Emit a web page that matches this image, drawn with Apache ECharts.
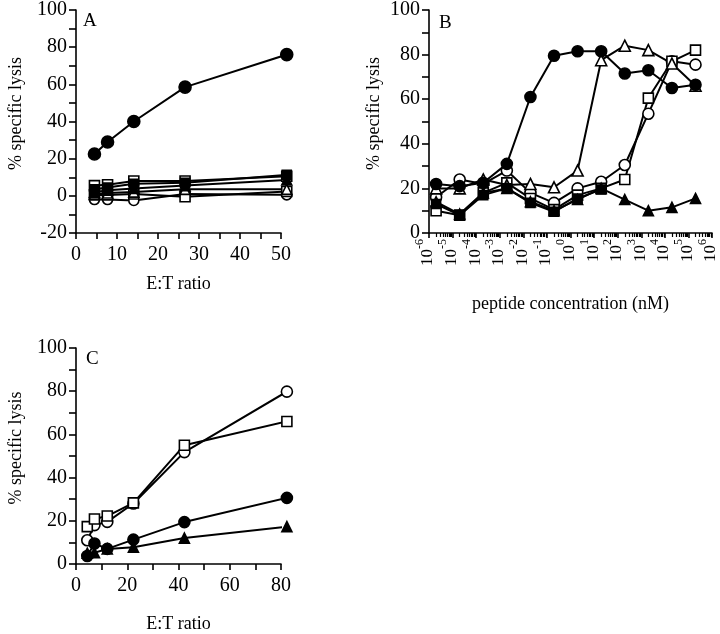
<!DOCTYPE html>
<html><head><meta charset="utf-8">
<script src="https://cdn.jsdelivr.net/npm/echarts@6/dist/echarts.min.js"></script>
<style>html,body{margin:0;padding:0;background:#fff}#c{width:720px;height:634px}</style>
</head><body><div id="c"></div>
<script>
// ---------- Panel A (E:T ratio) ----------
const etA = [4.5, 7.7, 14.1, 26.6, 51.4];
const aFilledCircle = [22.5, 29, 40, 58.5, 76];
const aOpenSquare = [5.5, 6, 8, 8, 10.5];
const aFilledSquare = [3.5, 4.5, 6.5, 7, 11.3];
const aFilledTriangle = [2, 3, 4, 5.5, 8.5];
const aOpenTriangle = [1, 1.5, 2, 3.5, 3.5];
const aOpenSquare2 = [0.5, 0.5, 1, -0.5, 2.3];
const aOpenCircle = [-2, -2, -2.5, 1, 0.5];

// ---------- Panel B (peptide concentration, nM) ----------
const concB = [2e-6, 2e-5, 2e-4, 2e-3, 2e-2, 0.2, 2, 20, 200, 2000, 2e4, 2e5];
const bFilledCircle = [22, 21, 22.5, 31, 61, 79.5, 81.5, 81.5, 71.5, 73, 65, 66.5];
const bOpenTriangle = [20, 20, 24, 21.5, 22, 20.5, 28, 77.5, 84, 82, 76, 66];
const bOpenCircle = [16, 24, 22, 28, 18, 13.5, 20, 23, 30.5, 53.5, 77, 75.5];
const bOpenSquare = [10, 8, 18, 22.5, 15.5, 10.5, 17, 20, 24, 60.5, 77, 82];
const bFilledSquare = [13, 8, 17, 20, 13.5, 9.5, 15.5, 19.5];
const bFilledTriangle = [14, 8.5, 18, 20, 14, 10, 15, 20, 15, 10, 11.5, 15.5];
const bExponents = [-6, -5, -4, -3, -2, -1, 0, 1, 2, 3, 4, 5, 6];

// ---------- Panel C (E:T ratio) ----------
const etC = [4.4, 7.2, 12.2, 22.4, 42.3, 82.3];
const cOpenCircle = [11, 18, 19.5, 28, 51.8, 79.8];
const cOpenSquare = [17.3, 20.8, 22.2, 28.3, 55, 66];
const cFilledCircle = [3.7, 9.5, 7, 11.3, 19.4, 30.6];
const cFilledTriangle = [5, 5.2, 7, 7.8, 12, 17.3];

const FONT = "'Liberation Serif', 'Times New Roman', serif";
const BLACK = '#000';

function pairs(xs, ys) { return ys.map((y, i) => [xs[i], y]); }

function ser(grid, xs, ys, shape, filled, size) {
  return {
    type: 'line', xAxisIndex: grid, yAxisIndex: grid,
    data: pairs(xs, ys), clip: false,
    symbol: shape, symbolSize: size || 10,
    lineStyle: { color: BLACK, width: 2 },
    itemStyle: { color: filled ? BLACK : '#fff', borderColor: BLACK, borderWidth: 1.6 },
    z: filled ? 3 : 2, animation: false
  };
}

function valueX(grid, min, max, interval, name, gap) {
  return {
    type: 'value', gridIndex: grid, min, max, interval,
    name, nameLocation: 'middle', nameGap: gap,
    nameTextStyle: { fontFamily: FONT, fontSize: 18, color: BLACK },
    axisLine: { show: true, onZero: false, lineStyle: { color: BLACK, width: 1.6 } },
    axisTick: { show: true, inside: false, length: 6, lineStyle: { color: BLACK, width: 1.6 } },
    minorTick: { show: true, splitNumber: 2, length: 6, lineStyle: { color: BLACK, width: 1.6 } },
    axisLabel: { fontFamily: FONT, fontSize: 20, color: BLACK, margin: 12 },
    splitLine: { show: false }
  };
}
function valueY(grid, min, max, gap) {
  return {
    type: 'value', gridIndex: grid, min, max, interval: 20,
    name: '% specific lysis', nameLocation: 'middle', nameGap: gap, nameRotate: 90,
    nameTextStyle: { fontFamily: FONT, fontSize: 18, color: BLACK, padding: [0, 0, 0, 16] },
    axisLine: { show: true, onZero: false, lineStyle: { color: BLACK, width: 1.6 } },
    axisTick: { show: true, inside: false, length: 7, lineStyle: { color: BLACK, width: 1.6 } },
    minorTick: { show: true, splitNumber: 2, length: 7, lineStyle: { color: BLACK, width: 1.6 } },
    axisLabel: { fontFamily: FONT, fontSize: 20, color: BLACK, margin: 9 },
    splitLine: { show: false }
  };
}

const chart = echarts.init(document.getElementById('c'), null, { renderer: 'canvas' });
const option = {
  backgroundColor: '#fff',
  animation: false,
  grid: [
    { left: 76, top: 10, width: 205, height: 223 },
    { left: 429, top: 10, width: 283, height: 223 },
    { left: 76, top: 348, width: 205, height: 224 }
  ],
  xAxis: [
    valueX(0, 0, 50, 10, 'E:T ratio', 42),
    {
      type: 'log', logBase: 10, gridIndex: 1, min: 1e-6, max: 1e6, interval: 1,
      name: 'peptide concentration (nM)', nameLocation: 'middle', nameGap: 62,
      nameTextStyle: { fontFamily: FONT, fontSize: 18, color: BLACK },
      axisLine: { show: true, onZero: false, lineStyle: { color: BLACK, width: 1.6 } },
      axisTick: { show: true, length: 5, lineStyle: { color: BLACK, width: 1.6 } },
      minorTick: { show: true, splitNumber: 9, length: 4, lineStyle: { color: BLACK, width: 1.2 } },
      axisLabel: {
        rotate: 90, margin: 6, color: BLACK, fontFamily: FONT, padding: [0, 0, 8, 0],
        formatter: function (v) {
          const e = Math.round(Math.log10(v));
          return bExponents.indexOf(e) >= 0 ? '{b|10}{e|' + e + '}' : '';
        },
        rich: {
          b: { fontFamily: FONT, fontSize: 17, color: BLACK, lineHeight: 23, verticalAlign: 'bottom' },
          e: { fontFamily: FONT, fontSize: 12, color: BLACK, verticalAlign: 'top' }
        }
      },
      splitLine: { show: false }
    },
    valueX(2, 0, 80, 20, 'E:T ratio', 51)
  ],
  yAxis: [valueY(0, -20, 100, 51), valueY(1, 0, 100, 46), valueY(2, 0, 100, 51)],
  graphic: [
    { type: 'text', left: 83, top: 12, style: { text: 'A', font: '19px ' + FONT, fill: BLACK } },
    { type: 'text', left: 439, top: 14, style: { text: 'B', font: '19px ' + FONT, fill: BLACK } },
    { type: 'text', left: 86, top: 350, style: { text: 'C', font: '19px ' + FONT, fill: BLACK } }
  ],
  series: [
    ser(0, etA, aOpenCircle, 'circle', false, 10),
    ser(0, etA, aOpenSquare2, 'rect', false, 10),
    ser(0, etA, aOpenTriangle, 'triangle', false, 10),
    ser(0, etA, aOpenSquare, 'rect', false, 10),
    ser(0, etA, aFilledTriangle, 'triangle', true, 10),
    ser(0, etA, aFilledSquare, 'rect', true, 9),
    ser(0, etA, aFilledCircle, 'circle', true, 12),

    ser(1, concB, bOpenCircle, 'circle', false, 11),
    ser(1, concB, bOpenSquare, 'rect', false, 10),
    ser(1, concB, bOpenTriangle, 'triangle', false, 11),
    ser(1, concB, bFilledSquare, 'rect', true, 9),
    ser(1, concB, bFilledTriangle, 'triangle', true, 10),
    ser(1, concB, bFilledCircle, 'circle', true, 11),

    ser(2, etC, cOpenCircle, 'circle', false, 11),
    ser(2, etC, cOpenSquare, 'rect', false, 10),
    ser(2, etC, cFilledTriangle, 'triangle', true, 10),
    ser(2, etC, cFilledCircle, 'circle', true, 11)
  ]
};
chart.setOption(option);
</script>
</body></html>
